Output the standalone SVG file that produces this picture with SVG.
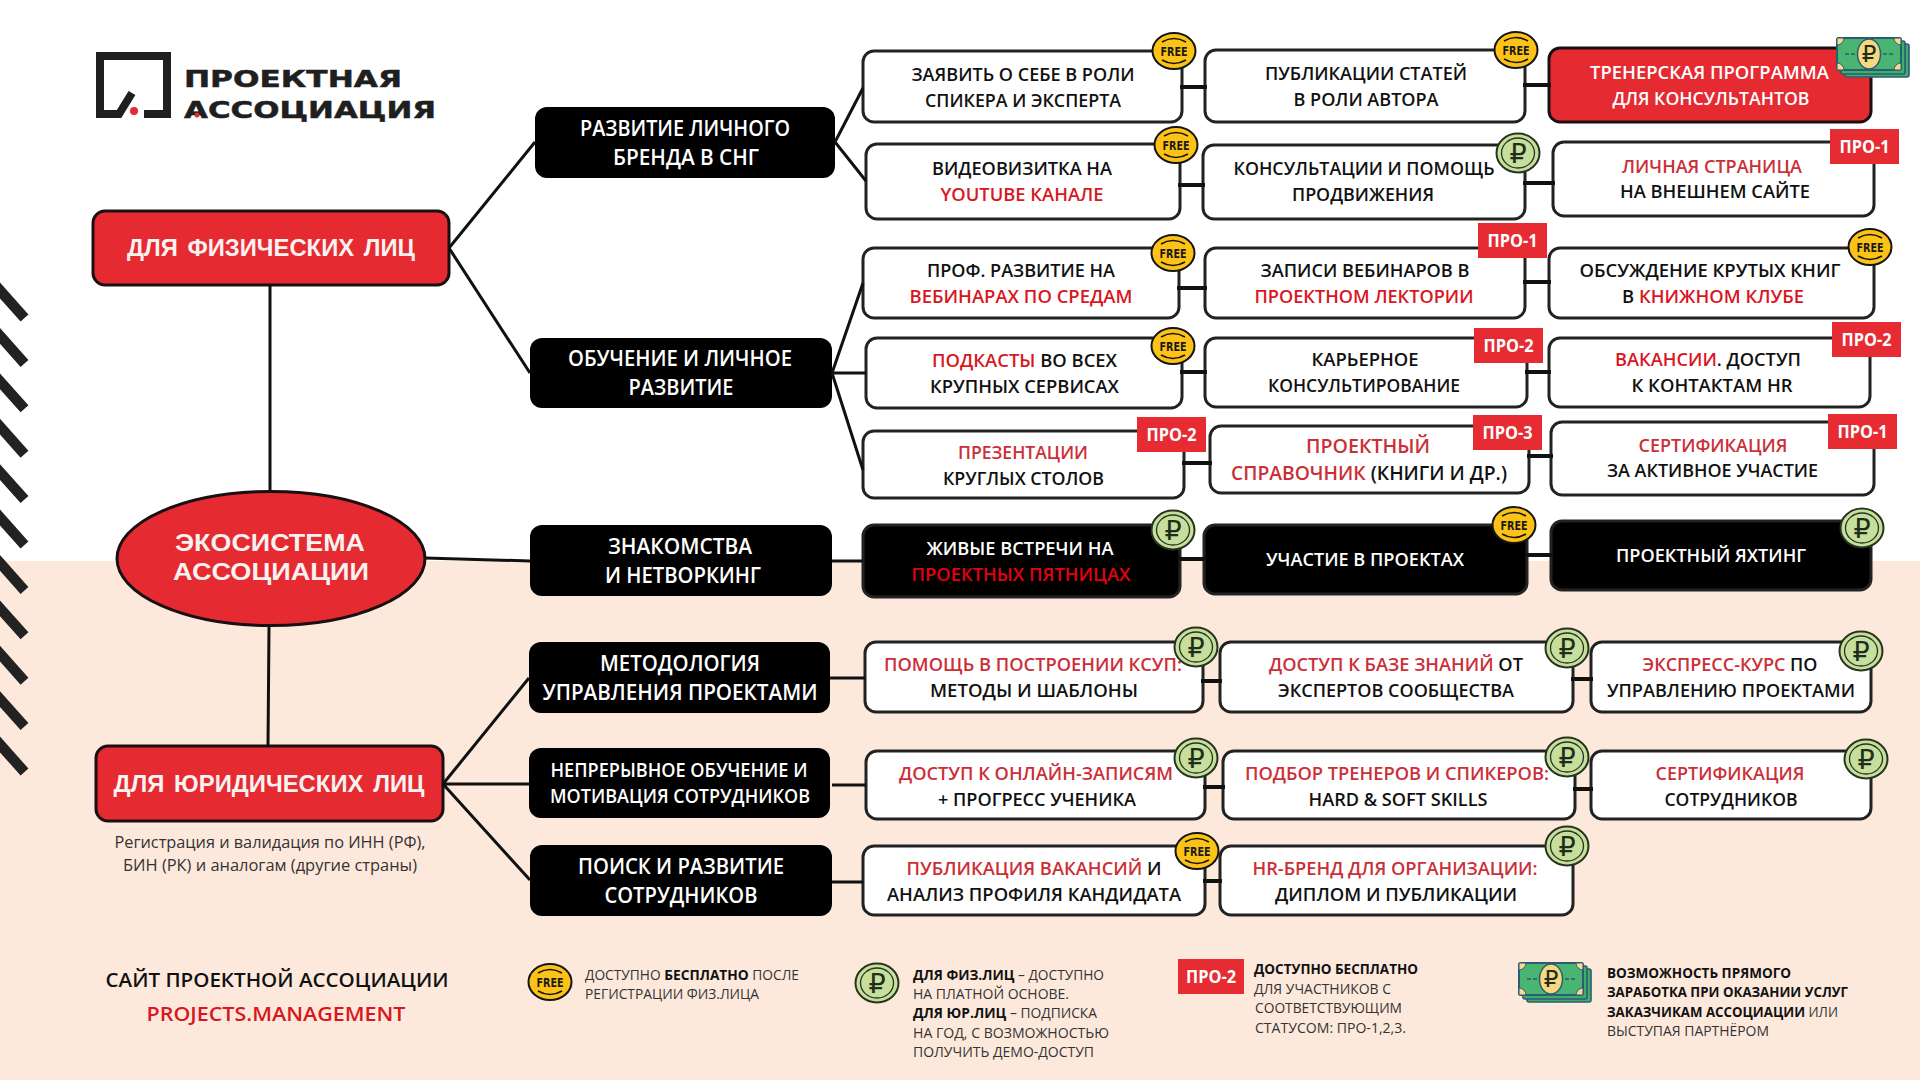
<svg xmlns="http://www.w3.org/2000/svg" xmlns:xlink="http://www.w3.org/1999/xlink" width="1920" height="1080" viewBox="0 0 1920 1080">
<style>
text{font-family:"Open Sans","Noto Sans",sans-serif;font-size:18.500px;font-weight:600;fill:#111;text-anchor:middle}
.w{fill:#fff}
.a{fill:#d8171f}
.b{fill:#cb2f38}
.m{font-size:21.500px;font-weight:600;fill:#fff}
.h{font-family:"Liberation Sans",Arial,sans-serif;font-weight:700;fill:#f8f2f0;font-size:23px;word-spacing:3px}
.s{font-size:15.500px;font-weight:400;fill:#333}
.l{font-size:14.500px;font-weight:400;fill:#333;text-anchor:start}
.lb{font-weight:700;fill:#111}
.f{font-family:"DejaVu Sans",sans-serif;font-size:12px;font-weight:700;fill:#1a1a1a}
.p{font-size:18px;font-weight:700;fill:#fff}
.ru{font-family:"DejaVu Sans",sans-serif;font-size:27px;font-weight:400;fill:#1f2e1a}
.n{fill:#fff;stroke:#222;stroke-width:3}
.k{fill:#000}
.k2{fill:#000;stroke:#222;stroke-width:3}
.r{fill:#e52a32;stroke:#1a1012;stroke-width:3}
.c{fill:none;stroke:#111;stroke-width:3}
.c2{fill:none;stroke:#111;stroke-width:4}
.st{fill:none;stroke:#222;stroke-width:10.500}
.lg{font-family:"DejaVu Sans",sans-serif;font-size:23.500px;font-weight:700;fill:#1f1f1f;stroke:#1f1f1f;stroke-width:.5}
</style>
<defs>
<g id="free"><ellipse rx="21.500" ry="18" fill="#fdc216" stroke="#151515" stroke-width="2"/><path d="M-12,-9Q0,-16 12,-9M-12,9Q0,16 12,9" fill="none" stroke="#151515" stroke-width="1.600"/></g>
<g id="rub"><ellipse rx="21.500" ry="19.500" fill="#c6df9d" stroke="#26331f" stroke-width="2"/><ellipse rx="16.500" ry="15" fill="none" stroke="#26331f" stroke-width="1.300"/></g>
<rect id="pro" width="69" height="35" fill="#e62b33"/>
<g id="money">
<rect x="8" y="6" width="64" height="33" rx="2" fill="#3fae6c" stroke="#2c5c70" stroke-width="1.600"/>
<rect x="4" y="3" width="64" height="33" rx="2" fill="#3fae6c" stroke="#2c5c70" stroke-width="1.600"/>
<rect width="64" height="32" rx="2" fill="#4ab573" stroke="#2c5c70" stroke-width="2"/>
<path d="M0,7A7,7 0 0 0 7,0H0ZM64,7A7,7 0 0 1 57,0H64ZM0,25A7,7 0 0 1 7,32H0ZM64,25A7,7 0 0 0 57,32H64Z" fill="#f6d98d" stroke="#2c5c70" stroke-width="1"/>
<ellipse cx="32" cy="16" rx="11.500" ry="15" fill="#f8d781" stroke="#2c5c70" stroke-width="1.500"/>
<path d="M8,16H18M46,16H56" fill="none" stroke="#2c5c70" stroke-width="1.600" stroke-dasharray="4 2"/>
</g>
</defs>

<rect width="1920" height="1080" fill="#fff"/>
<rect y="561" width="1920" height="519" fill="#fde9dc"/>

<g id="stripes">
<path class="st" d="M-4,286L24.500,318M-4,331.400L24.500,363.400M-4,376.800L24.500,408.800M-4,422.200L24.500,454.200M-4,467.600L24.500,499.600M-4,513L24.500,545M-4,558.400L24.500,590.400M-4,603.800L24.500,635.800M-4,649.200L24.500,681.200M-4,694.600L24.500,726.600M-4,740L24.500,772"/>
</g>

<g id="logo">
<path d="M144,114H167V56H100V114H119L132,93" fill="none" stroke="#1f1f1f" stroke-width="8"/>
<circle cx="134" cy="111" r="4" fill="#e52a32"/>
<text class="lg" x="293" y="87" textLength="218" lengthAdjust="spacingAndGlyphs">ПРОЕКТНАЯ</text>
<text class="lg" x="310" y="118" textLength="252" lengthAdjust="spacingAndGlyphs">АССОЦИАЦИЯ</text>
<circle cx="197" cy="115" r="2.500" fill="#e52a32"/>
</g>

<g id="node-phys"><rect class="r" x="93" y="211" width="356" height="74" rx="12"/><text class="h" x="271" y="256" textLength="288" lengthAdjust="spacingAndGlyphs">ДЛЯ ФИЗИЧЕСКИХ ЛИЦ</text></g>
<g id="node-eco"><ellipse class="r" cx="271" cy="558.500" rx="154" ry="67"/><text class="h" x="270" y="551" style="font-size:24px" textLength="190" lengthAdjust="spacingAndGlyphs">ЭКОСИСТЕМА</text><text class="h" x="271" y="580" style="font-size:24px" textLength="196" lengthAdjust="spacingAndGlyphs">АССОЦИАЦИИ</text></g>
<g id="node-jur"><rect class="r" x="96" y="746" width="347" height="75" rx="12"/><text class="h" x="269" y="792" textLength="311" lengthAdjust="spacingAndGlyphs">ДЛЯ ЮРИДИЧЕСКИХ ЛИЦ</text>
<text class="s" x="270" y="848" textLength="311" lengthAdjust="spacingAndGlyphs">Регистрация и валидация по ИНН (РФ),</text><text class="s" x="270" y="871" textLength="294" lengthAdjust="spacingAndGlyphs">БИН (РК) и аналогам (другие страны)</text></g>

<g id="node-brand"><rect class="k" x="535" y="107" width="300" height="71" rx="12"/><text class="m" x="685" y="136" textLength="210" lengthAdjust="spacingAndGlyphs">РАЗВИТИЕ ЛИЧНОГО</text><text class="m" x="686" y="165" textLength="146" lengthAdjust="spacingAndGlyphs">БРЕНДА В СНГ</text></g>
<g id="node-learn"><rect class="k" x="530" y="338" width="302" height="70" rx="12"/><text class="m" x="680" y="366" textLength="224" lengthAdjust="spacingAndGlyphs">ОБУЧЕНИЕ И ЛИЧНОЕ</text><text class="m" x="681" y="395" textLength="105" lengthAdjust="spacingAndGlyphs">РАЗВИТИЕ</text></g>
<g id="node-net"><rect class="k" x="530" y="525" width="302" height="71" rx="12"/><text class="m" x="680" y="554" textLength="144" lengthAdjust="spacingAndGlyphs">ЗНАКОМСТВА</text><text class="m" x="683" y="583" textLength="156" lengthAdjust="spacingAndGlyphs">И НЕТВОРКИНГ</text></g>
<g id="node-method"><rect class="k" x="529" y="642" width="301" height="71" rx="12"/><text class="m" x="680" y="671" textLength="160" lengthAdjust="spacingAndGlyphs">МЕТОДОЛОГИЯ</text><text class="m" x="680" y="700" textLength="275" lengthAdjust="spacingAndGlyphs">УПРАВЛЕНИЯ ПРОЕКТАМИ</text></g>
<g id="node-cont"><rect class="k" x="529" y="748" width="301" height="70" rx="12"/><text class="m" x="679" y="777" style="font-size:19px" textLength="257" lengthAdjust="spacingAndGlyphs">НЕПРЕРЫВНОЕ ОБУЧЕНИЕ И</text><text class="m" x="680" y="803" style="font-size:19px" textLength="260" lengthAdjust="spacingAndGlyphs">МОТИВАЦИЯ СОТРУДНИКОВ</text></g>
<g id="node-search"><rect class="k" x="530" y="845" width="302" height="71" rx="12"/><text class="m" x="681" y="874" textLength="206" lengthAdjust="spacingAndGlyphs">ПОИСК И РАЗВИТИЕ</text><text class="m" x="681" y="903" textLength="153" lengthAdjust="spacingAndGlyphs">СОТРУДНИКОВ</text></g>

<g id="node-a1"><rect class="n" x="863" y="51" width="319" height="71" rx="11"/><text x="1023" y="81" textLength="223" lengthAdjust="spacingAndGlyphs">ЗАЯВИТЬ О СЕБЕ В РОЛИ</text><text x="1023" y="107" textLength="196" lengthAdjust="spacingAndGlyphs">СПИКЕРА И ЭКСПЕРТА</text></g>
<g id="node-a2"><rect class="n" x="1205" y="50" width="320" height="72" rx="11"/><text x="1366" y="80" textLength="202" lengthAdjust="spacingAndGlyphs">ПУБЛИКАЦИИ СТАТЕЙ</text><text x="1366" y="106" textLength="145" lengthAdjust="spacingAndGlyphs">В РОЛИ АВТОРА</text></g>
<g id="node-a3"><rect class="r" x="1549" y="48" width="322" height="74" rx="11"/><text class="w" x="1709.500" y="79" textLength="239" lengthAdjust="spacingAndGlyphs">ТРЕНЕРСКАЯ ПРОГРАММА</text><text class="w" x="1711" y="105" textLength="197" lengthAdjust="spacingAndGlyphs">ДЛЯ КОНСУЛЬТАНТОВ</text></g>

<g id="node-b1"><rect class="n" x="866" y="144" width="314" height="75" rx="11"/><text x="1022" y="175" textLength="180" lengthAdjust="spacingAndGlyphs">ВИДЕОВИЗИТКА НА</text><text class="a" x="1022" y="201" textLength="163" lengthAdjust="spacingAndGlyphs">YOUTUBE КАНАЛЕ</text></g>
<g id="node-b2"><rect class="n" x="1203" y="145" width="322" height="74" rx="11"/><text x="1364" y="175" textLength="261" lengthAdjust="spacingAndGlyphs">КОНСУЛЬТАЦИИ И ПОМОЩЬ</text><text x="1363" y="201" textLength="142" lengthAdjust="spacingAndGlyphs">ПРОДВИЖЕНИЯ</text></g>
<g id="node-b3"><rect class="n" x="1553" y="142" width="321" height="74" rx="11"/><text class="b" x="1712" y="173" textLength="180" lengthAdjust="spacingAndGlyphs">ЛИЧНАЯ СТРАНИЦА</text><text x="1715" y="198" textLength="190" lengthAdjust="spacingAndGlyphs">НА ВНЕШНЕМ САЙТЕ</text></g>

<g id="node-c1"><rect class="n" x="863" y="248" width="316" height="70" rx="11"/><text x="1021" y="277" textLength="188" lengthAdjust="spacingAndGlyphs">ПРОФ. РАЗВИТИЕ НА</text><text class="a" x="1021" y="303" textLength="223" lengthAdjust="spacingAndGlyphs">ВЕБИНАРАХ ПО СРЕДАМ</text></g>
<g id="node-c2"><rect class="n" x="1205" y="248" width="320" height="70" rx="11"/><text x="1365" y="277" textLength="209" lengthAdjust="spacingAndGlyphs">ЗАПИСИ ВЕБИНАРОВ В</text><text class="a" x="1364" y="303" textLength="219" lengthAdjust="spacingAndGlyphs">ПРОЕКТНОМ ЛЕКТОРИИ</text></g>
<g id="node-c3"><rect class="n" x="1549" y="248" width="325" height="70" rx="11"/><text x="1710" y="277" textLength="261" lengthAdjust="spacingAndGlyphs">ОБСУЖДЕНИЕ КРУТЫХ КНИГ</text><text x="1713" y="303" textLength="182" lengthAdjust="spacingAndGlyphs">В <tspan class="a">КНИЖНОМ КЛУБЕ</tspan></text></g>

<g id="node-d1"><rect class="n" x="866" y="338" width="316" height="70" rx="11"/><text x="1024.500" y="367" textLength="185" lengthAdjust="spacingAndGlyphs"><tspan class="a">ПОДКАСТЫ</tspan> ВО ВСЕХ</text><text x="1024.500" y="393" textLength="189" lengthAdjust="spacingAndGlyphs">КРУПНЫХ СЕРВИСАХ</text></g>
<g id="node-d2"><rect class="n" x="1205" y="338" width="322" height="69" rx="11"/><text x="1365" y="366" textLength="107" lengthAdjust="spacingAndGlyphs">КАРЬЕРНОЕ</text><text x="1364" y="392" textLength="192" lengthAdjust="spacingAndGlyphs">КОНСУЛЬТИРОВАНИЕ</text></g>
<g id="node-d3"><rect class="n" x="1549" y="338" width="321" height="69" rx="11"/><text x="1708" y="366" textLength="186" lengthAdjust="spacingAndGlyphs"><tspan class="a">ВАКАНСИИ</tspan>. ДОСТУП</text><text x="1712" y="392" textLength="161" lengthAdjust="spacingAndGlyphs">К КОНТАКТАМ HR</text></g>

<g id="node-e1"><rect class="n" x="863" y="431" width="321" height="67" rx="11"/><text class="b" x="1023" y="459" textLength="130" lengthAdjust="spacingAndGlyphs">ПРЕЗЕНТАЦИИ</text><text x="1023.500" y="485" textLength="161" lengthAdjust="spacingAndGlyphs">КРУГЛЫХ СТОЛОВ</text></g>
<g id="node-e2"><rect class="n" x="1210" y="426" width="319" height="67" rx="11"/><text class="b" x="1368" y="453" style="font-size:20.500px" textLength="124" lengthAdjust="spacingAndGlyphs">ПРОЕКТНЫЙ</text><text x="1369" y="480" style="font-size:20.500px" textLength="276" lengthAdjust="spacingAndGlyphs"><tspan class="b">СПРАВОЧНИК</tspan> (КНИГИ И ДР.)</text></g>
<g id="node-e3"><rect class="n" x="1551" y="422" width="323" height="73" rx="11"/><text class="b" x="1713" y="452" textLength="149" lengthAdjust="spacingAndGlyphs">СЕРТИФИКАЦИЯ</text><text x="1712.500" y="477" textLength="211" lengthAdjust="spacingAndGlyphs">ЗА АКТИВНОЕ УЧАСТИЕ</text></g>

<g id="node-f1"><rect class="k2" x="863" y="525" width="317" height="72" rx="11"/><text class="w" x="1020" y="555" textLength="187" lengthAdjust="spacingAndGlyphs">ЖИВЫЕ ВСТРЕЧИ НА</text><text x="1021" y="581" style="fill:#e3000f" textLength="219" lengthAdjust="spacingAndGlyphs">ПРОЕКТНЫХ ПЯТНИЦАХ</text></g>
<g id="node-f2"><rect class="k2" x="1204" y="525" width="323" height="69" rx="11"/><text class="w" x="1365" y="566" textLength="198" lengthAdjust="spacingAndGlyphs">УЧАСТИЕ В ПРОЕКТАХ</text></g>
<g id="node-f3"><rect class="k2" x="1551" y="521" width="320" height="69" rx="11"/><text class="w" x="1711" y="562" textLength="190" lengthAdjust="spacingAndGlyphs">ПРОЕКТНЫЙ ЯХТИНГ</text></g>

<g id="node-g1"><rect class="n" x="865" y="642" width="338" height="70" rx="11"/><text class="b" x="1033" y="671" textLength="298" lengthAdjust="spacingAndGlyphs">ПОМОЩЬ В ПОСТРОЕНИИ КСУП:</text><text x="1034" y="697" textLength="208" lengthAdjust="spacingAndGlyphs">МЕТОДЫ И ШАБЛОНЫ</text></g>
<g id="node-g2"><rect class="n" x="1220" y="642" width="353" height="70" rx="11"/><text x="1396" y="671" textLength="254" lengthAdjust="spacingAndGlyphs"><tspan class="b">ДОСТУП К БАЗЕ ЗНАНИЙ</tspan> ОТ</text><text x="1396" y="697" textLength="236" lengthAdjust="spacingAndGlyphs">ЭКСПЕРТОВ СООБЩЕСТВА</text></g>
<g id="node-g3"><rect class="n" x="1591" y="642" width="280" height="70" rx="11"/><text x="1730" y="671" textLength="175" lengthAdjust="spacingAndGlyphs"><tspan class="b">ЭКСПРЕСС-КУРС</tspan> ПО</text><text x="1731" y="697" textLength="248" lengthAdjust="spacingAndGlyphs">УПРАВЛЕНИЮ ПРОЕКТАМИ</text></g>

<g id="node-h1"><rect class="n" x="866" y="751" width="339" height="68" rx="11"/><text class="b" x="1036" y="780" textLength="274" lengthAdjust="spacingAndGlyphs">ДОСТУП К ОНЛАЙН-ЗАПИСЯМ</text><text x="1037" y="806" textLength="198" lengthAdjust="spacingAndGlyphs">+ ПРОГРЕСС УЧЕНИКА</text></g>
<g id="node-h2"><rect class="n" x="1223" y="751" width="352" height="68" rx="11"/><text class="b" x="1397" y="780" textLength="304" lengthAdjust="spacingAndGlyphs">ПОДБОР ТРЕНЕРОВ И СПИКЕРОВ:</text><text x="1398" y="806" textLength="179" lengthAdjust="spacingAndGlyphs">HARD &amp; SOFT SKILLS</text></g>
<g id="node-h3"><rect class="n" x="1591" y="751" width="280" height="68" rx="11"/><text class="b" x="1730" y="780" textLength="149" lengthAdjust="spacingAndGlyphs">СЕРТИФИКАЦИЯ</text><text x="1731" y="806" textLength="133" lengthAdjust="spacingAndGlyphs">СОТРУДНИКОВ</text></g>

<g id="node-i1"><rect class="n" x="863" y="846" width="342" height="69" rx="11"/><text x="1034" y="875" textLength="255" lengthAdjust="spacingAndGlyphs"><tspan class="b">ПУБЛИКАЦИЯ ВАКАНСИЙ</tspan> И</text><text x="1034" y="901" textLength="294" lengthAdjust="spacingAndGlyphs">АНАЛИЗ ПРОФИЛЯ КАНДИДАТА</text></g>
<g id="node-i2"><rect class="n" x="1220" y="846" width="353" height="69" rx="11"/><text class="b" x="1395" y="875" textLength="285" lengthAdjust="spacingAndGlyphs">HR-БРЕНД ДЛЯ ОРГАНИЗАЦИИ:</text><text x="1396" y="901" textLength="242" lengthAdjust="spacingAndGlyphs">ДИПЛОМ И ПУБЛИКАЦИИ</text></g>

<g id="connectors">
<path class="c" d="M270,285V491M269,626L268,746M449,248L535,142M449,248L530,373M835,142L863,88M835,142L866,181M832,373L863,283M832,373H866M832,373L863,470M425,558L530,561M832,561H863M443,784L529,678M443,784H529M443,784L530,880M830,678H865M832,785H866M832,882H863"/>
<path class="c2" d="M1180,87H1207M1523,85H1551M1178,185H1205M1523,183H1555M1177,288H1207M1523,282H1551M1180,372H1207M1525,372H1551M1182,463H1212M1527,456H1553M1178,559H1206M1525,555H1553M1201,681H1222M1571,679H1593M1203,787H1225M1573,789H1593M1203,881H1222"/>
</g>

<g id="badges">
<g transform="translate(1174,51)"><use href="#free"/><text class="f" y="4.500" textLength="27" lengthAdjust="spacingAndGlyphs">FREE</text></g>
<g transform="translate(1516,50)"><use href="#free"/><text class="f" y="4.500" textLength="27" lengthAdjust="spacingAndGlyphs">FREE</text></g>
<g transform="translate(1837,38)"><use href="#money"/><text class="ru" x="32" y="24" style="font-size:23px">₽</text></g>
<g transform="translate(1176,145)"><use href="#free"/><text class="f" y="4.500" textLength="27" lengthAdjust="spacingAndGlyphs">FREE</text></g>
<g transform="translate(1518,153)"><use href="#rub"/><text class="ru" y="10">₽</text></g>
<g transform="translate(1830,129)"><use href="#pro"/><text class="p" x="34.500" y="23.500" textLength="50" lengthAdjust="spacingAndGlyphs">ПРО-1</text></g>
<g transform="translate(1173,253)"><use href="#free"/><text class="f" y="4.500" textLength="27" lengthAdjust="spacingAndGlyphs">FREE</text></g>
<g transform="translate(1478,223)"><use href="#pro"/><text class="p" x="34.500" y="24" textLength="50" lengthAdjust="spacingAndGlyphs">ПРО-1</text></g>
<g transform="translate(1870,247)"><use href="#free"/><text class="f" y="4.500" textLength="27" lengthAdjust="spacingAndGlyphs">FREE</text></g>
<g transform="translate(1173,346)"><use href="#free"/><text class="f" y="4.500" textLength="27" lengthAdjust="spacingAndGlyphs">FREE</text></g>
<g transform="translate(1474,328)"><use href="#pro"/><text class="p" x="34.500" y="24" textLength="50" lengthAdjust="spacingAndGlyphs">ПРО-2</text></g>
<g transform="translate(1832,322)"><use href="#pro"/><text class="p" x="34.500" y="24" textLength="50" lengthAdjust="spacingAndGlyphs">ПРО-2</text></g>
<g transform="translate(1137,417)"><use href="#pro"/><text class="p" x="34.500" y="23.500" textLength="50" lengthAdjust="spacingAndGlyphs">ПРО-2</text></g>
<g transform="translate(1473,415)"><use href="#pro"/><text class="p" x="34.500" y="23.500" textLength="50" lengthAdjust="spacingAndGlyphs">ПРО-3</text></g>
<g transform="translate(1828,414)"><use href="#pro"/><text class="p" x="34.500" y="23.500" textLength="50" lengthAdjust="spacingAndGlyphs">ПРО-1</text></g>
<g transform="translate(1173,530)"><use href="#rub"/><text class="ru" y="10">₽</text></g>
<g transform="translate(1514,525)"><use href="#free"/><text class="f" y="4.500" textLength="27" lengthAdjust="spacingAndGlyphs">FREE</text></g>
<g transform="translate(1862,528)"><use href="#rub"/><text class="ru" y="10">₽</text></g>
<g transform="translate(1196,647)"><use href="#rub"/><text class="ru" y="10">₽</text></g>
<g transform="translate(1567,648)"><use href="#rub"/><text class="ru" y="10">₽</text></g>
<g transform="translate(1861,651)"><use href="#rub"/><text class="ru" y="10">₽</text></g>
<g transform="translate(1196,758)"><use href="#rub"/><text class="ru" y="10">₽</text></g>
<g transform="translate(1567,757)"><use href="#rub"/><text class="ru" y="10">₽</text></g>
<g transform="translate(1866,759)"><use href="#rub"/><text class="ru" y="10">₽</text></g>
<g transform="translate(1197,851)"><use href="#free"/><text class="f" y="4.500" textLength="27" lengthAdjust="spacingAndGlyphs">FREE</text></g>
<g transform="translate(1567,846)"><use href="#rub"/><text class="ru" y="10">₽</text></g>
</g>

<g id="site"><text x="277" y="987" style="font-size:20.500px" textLength="343" lengthAdjust="spacingAndGlyphs">САЙТ ПРОЕКТНОЙ АССОЦИАЦИИ</text><text class="a" x="276" y="1021" style="font-size:20.500px" textLength="259" lengthAdjust="spacingAndGlyphs">PROJECTS.MANAGEMENT</text></g>

<g id="legend-free"><g transform="translate(550,982)"><use href="#free"/><text class="f" y="4.500" textLength="27" lengthAdjust="spacingAndGlyphs">FREE</text></g>
<text class="l" x="585" y="980" textLength="214" lengthAdjust="spacingAndGlyphs">ДОСТУПНО <tspan class="lb">БЕСПЛАТНО</tspan> ПОСЛЕ</text><text class="l" x="585" y="999" textLength="174" lengthAdjust="spacingAndGlyphs">РЕГИСТРАЦИИ ФИЗ.ЛИЦА</text></g>
<g id="legend-rub"><g transform="translate(877,983)"><use href="#rub"/><text class="ru" y="10">₽</text></g>
<text class="l" x="913" y="980" textLength="191" lengthAdjust="spacingAndGlyphs"><tspan class="lb">ДЛЯ ФИЗ.ЛИЦ</tspan> – ДОСТУПНО</text><text class="l" x="913" y="999" textLength="156" lengthAdjust="spacingAndGlyphs">НА ПЛАТНОЙ ОСНОВЕ.</text><text class="l" x="913" y="1018" textLength="184" lengthAdjust="spacingAndGlyphs"><tspan class="lb">ДЛЯ ЮР.ЛИЦ</tspan> – ПОДПИСКА</text><text class="l" x="913" y="1038" textLength="196" lengthAdjust="spacingAndGlyphs">НА ГОД, С ВОЗМОЖНОСТЬЮ</text><text class="l" x="913" y="1057" textLength="181" lengthAdjust="spacingAndGlyphs">ПОЛУЧИТЬ ДЕМО-ДОСТУП</text></g>
<g id="legend-pro"><g transform="translate(1178,959)"><rect width="66" height="35" fill="#e62b33"/><text class="p" x="33" y="23.500" textLength="50" lengthAdjust="spacingAndGlyphs">ПРО-2</text></g>
<text class="l lb" x="1254" y="974" textLength="164" lengthAdjust="spacingAndGlyphs">ДОСТУПНО БЕСПЛАТНО</text><text class="l" x="1254" y="994" textLength="137" lengthAdjust="spacingAndGlyphs">ДЛЯ УЧАСТНИКОВ С</text><text class="l" x="1255" y="1013" textLength="147" lengthAdjust="spacingAndGlyphs">СООТВЕТСТВУЮЩИМ</text><text class="l" x="1255" y="1033" textLength="151" lengthAdjust="spacingAndGlyphs">СТАТУСОМ: ПРО-1,2,3.</text></g>
<g id="legend-money"><g transform="translate(1519,963)"><use href="#money"/><text class="ru" x="32" y="24" style="font-size:23px">₽</text></g>
<text class="l lb" x="1607" y="978" textLength="184" lengthAdjust="spacingAndGlyphs">ВОЗМОЖНОСТЬ ПРЯМОГО</text><text class="l lb" x="1607" y="997" textLength="241" lengthAdjust="spacingAndGlyphs">ЗАРАБОТКА ПРИ ОКАЗАНИИ УСЛУГ</text><text class="l" x="1607" y="1017" textLength="231" lengthAdjust="spacingAndGlyphs"><tspan class="lb">ЗАКАЗЧИКАМ АССОЦИАЦИИ</tspan> ИЛИ</text><text class="l" x="1607" y="1036" textLength="162" lengthAdjust="spacingAndGlyphs">ВЫСТУПАЯ ПАРТНЁРОМ</text></g>
</svg>
